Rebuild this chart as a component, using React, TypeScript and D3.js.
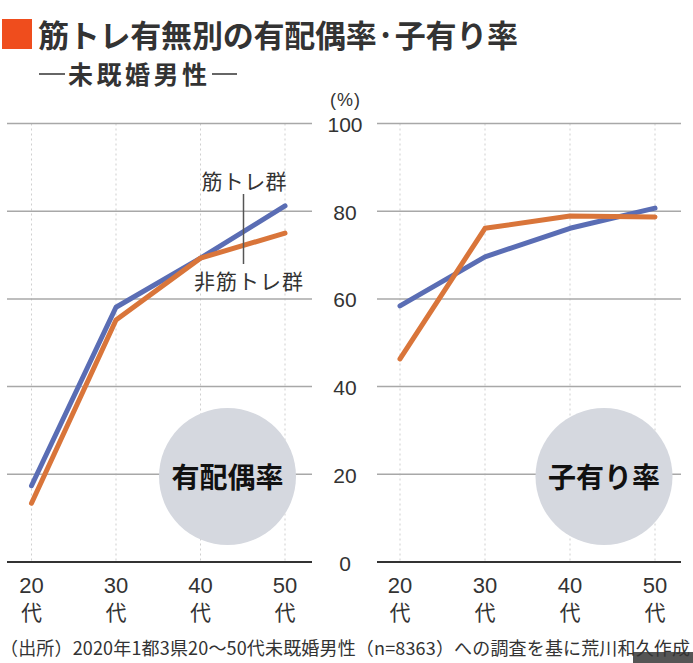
import React from "react";
import * as d3 from "d3";

const categories = ["20", "30", "40", "50"];
const marriedTraining = [17.4, 58.1, 69.3, 81.2];
const marriedNonTraining = [13.4, 55.2, 69.3, 75.0];
const childTraining = [58.4, 69.6, 76.1, 80.7];
const childNonTraining = [46.3, 76.1, 78.9, 78.7];
const yTicks = [0, 20, 40, 60, 80, 100];

const BLUE = "#5a6db4";
const ORANGE = "#d9753a";
const JP = "'Noto Sans CJK JP', 'Noto Sans', sans-serif";
const NUM = "'Liberation Sans', Arial, 'Noto Sans CJK JP', sans-serif";

const y = d3.scaleLinear().domain([0, 100]).range([562, 123.5]);

function Panel({
  x0, x1, gx0, gx1, seriesA, seriesB, label, cx,
}: {
  x0: number; x1: number; gx0: number; gx1: number;
  seriesA: number[]; seriesB: number[]; label: string; cx: number;
}) {
  const x = d3.scalePoint<string>().domain(categories).range([x0, x1]).padding(0);
  const line = d3
    .line<number>()
    .x((_, i) => x(categories[i]) as number)
    .y((d) => y(d));
  return (
    <g>
      {categories.map((c) => (
        <line
          key={"v" + c}
          x1={x(c)}
          x2={x(c)}
          y1={y(100)}
          y2={y(0)}
          stroke="#cfcfcf"
          strokeWidth={1}
          strokeDasharray="2,3"
        />
      ))}
      {yTicks.filter((t) => t > 0).map((t) => (
        <line key={"h" + t} x1={gx0} x2={gx1} y1={y(t)} y2={y(t)} stroke="#a8a8a8" strokeWidth={1.5} />
      ))}
      <circle cx={cx} cy={476.5} r={68.5} fill="#d5d8df" />
      <text
        x={cx}
        y={488}
        textAnchor="middle"
        fontFamily={JP}
        fontWeight={700}
        fontSize={28}
        fill="#111"
      >
        {label}
      </text>
      <line x1={gx0} x2={gx1} y1={y(0)} y2={y(0)} stroke="#333" strokeWidth={2} />
      <path d={line(seriesA) || ""} fill="none" stroke={BLUE} strokeWidth={5} strokeLinejoin="round" strokeLinecap="round" />
      <path d={line(seriesB) || ""} fill="none" stroke={ORANGE} strokeWidth={5} strokeLinejoin="round" strokeLinecap="round" />
      {categories.map((c) => (
        <g key={"t" + c}>
          <text x={x(c)} y={593} textAnchor="middle" fontFamily={NUM} fontSize={22} fill="#333">
            {c}
          </text>
          <text x={x(c)} y={620} textAnchor="middle" fontFamily={JP} fontSize={21} fill="#333">
            代
          </text>
        </g>
      ))}
    </g>
  );
}

export default function App() {
  return (
    <svg
      width={693}
      height={663}
      viewBox="0 0 693 663"
      style={{ position: "absolute", left: 0, top: 0, display: "block", background: "#fff" }}
    >
      <rect x={0} y={0} width={693} height={663} fill="#fff" />
      {/* Title */}
      <rect x={2} y={19} width={30} height={30} fill="#ef4d1d" />
      <text x={38} y={47} fontFamily={JP} fontWeight={700} fontSize={31} fill="#333" textLength={480} lengthAdjust="spacing">
        筋トレ有無別の有配偶率·子有り率
      </text>
      <line x1={39} x2={65} y1={74} y2={74} stroke="#333" strokeWidth={1.5} />
      <text x={68} y={84} fontFamily={JP} fontWeight={700} fontSize={25} fill="#333" textLength={139} lengthAdjust="spacing">
        未既婚男性
      </text>
      <line x1={212} x2={237} y1={74} y2={74} stroke="#333" strokeWidth={1.5} />

      {/* Y axis labels */}
      <text x={345} y={106} textAnchor="middle" fontFamily={NUM} fontSize={18} fill="#333" textLength={30} lengthAdjust="spacing">
        (%)
      </text>
      {yTicks.map((t) => (
        <text key={t} x={345} y={y(t) + 8.5} textAnchor="middle" fontFamily={NUM} fontSize={21} fill="#333">
          {t}
        </text>
      ))}

      <Panel
        x0={31.5}
        x1={285}
        gx0={7}
        gx1={312}
        seriesA={marriedTraining}
        seriesB={marriedNonTraining}
        label="有配偶率"
        cx={227.5}
      />
      <Panel
        x0={400}
        x1={655}
        gx0={377}
        gx1={681}
        seriesA={childTraining}
        seriesB={childNonTraining}
        label="子有り率"
        cx={604}
      />

      {/* Series labels */}
      <text x={244} y={189} textAnchor="middle" fontFamily={JP} fontSize={21} fill="#333" textLength={85} lengthAdjust="spacing">
        筋トレ群
      </text>
      <line x1={243.5} x2={243.5} y1={194} y2={264} stroke="#555" strokeWidth={1.5} />
      <text x={248.5} y={289} textAnchor="middle" fontFamily={JP} fontSize={21} fill="#333" textLength={109} lengthAdjust="spacing">
        非筋トレ群
      </text>

      {/* Caption */}
      <rect x={633} y={652} width={60} height={11} fill="#555" />
      <text x={0} y={655} fontFamily={JP} fontSize={18} fill="#333" textLength={690} lengthAdjust="spacing">
        （出所）2020年1都3県20～50代未既婚男性（n=8363）への調査を基に荒川和久作成
      </text>
    </svg>
  );
}
